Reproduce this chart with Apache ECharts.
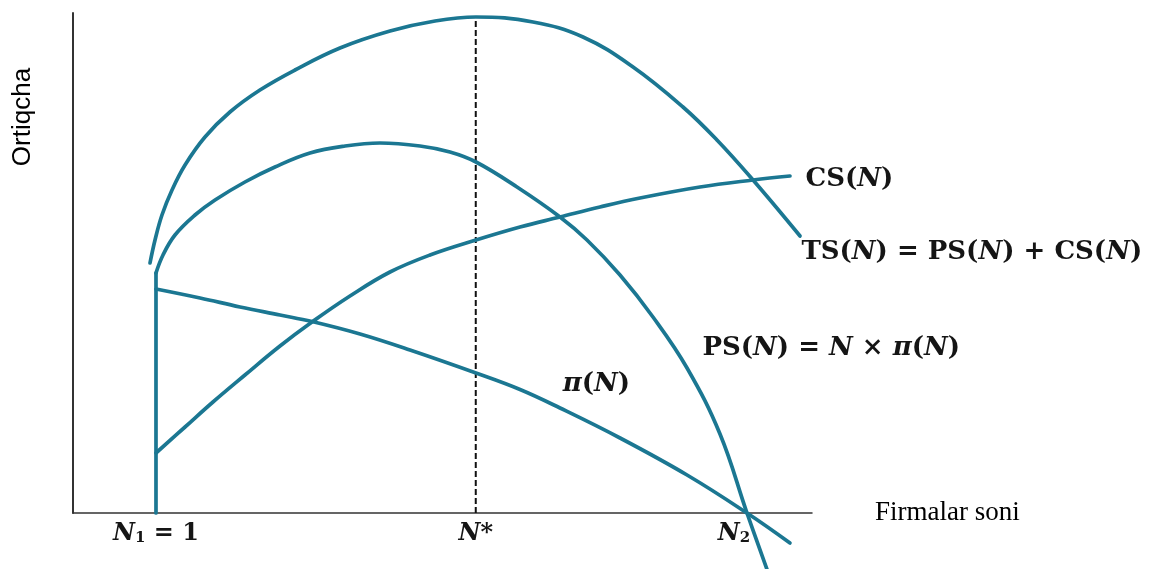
<!DOCTYPE html>
<html>
<head>
<meta charset="utf-8">
<script src="https://cdn.jsdelivr.net/npm/echarts@6/dist/echarts.min.js"></script>
<style>
  html, body { margin: 0; padding: 0; background: #fff; }
  #chart { width: 1151px; height: 569px; }
</style>
</head>
<body>
<div id="chart"></div>
<script>
// Number of firms (x) against surplus (y), both on a 0..100 schematic scale.
const tsCurve = [[10.42, 50.0], [11.10, 54.6], [12.04, 59.6], [13.40, 64.6], [15.16, 69.6], [17.86, 75.2],
  [21.24, 80.2], [25.30, 84.6], [30.04, 88.6], [36.13, 93.0], [42.90, 96.4], [48.99, 98.4],
  [54.53, 99.2], [62.25, 98.2], [69.01, 95.2], [75.78, 89.2], [82.54, 81.2], [87.14, 74.6],
  [92.02, 66.6], [98.38, 55.4]];
const psCurve = [[11.23, 48.0], [12.18, 51.6], [13.80, 55.6], [16.51, 59.6], [19.22, 62.6], [23.27, 66.2],
  [27.33, 69.2], [32.07, 72.0], [36.81, 73.4], [41.54, 74.0], [46.96, 73.4], [51.01, 72.2],
  [54.53, 70.2], [60.08, 65.2], [65.90, 59.2], [69.55, 54.6], [74.02, 47.6], [78.48, 39.2],
  [83.09, 29.0], [87.55, 15.8], [91.20, 0], [94.18, -12.4]];
const csCurve = [[11.23, 12.0], [15.16, 17.2], [18.94, 22.2], [23.27, 27.6], [28.01, 33.4], [32.34, 38.2],
  [37.48, 43.4], [42.90, 48.2], [48.31, 51.6], [54.53, 54.6], [60.49, 57.2], [65.90, 59.2],
  [71.31, 61.2], [76.73, 63.0], [84.84, 65.2], [92.02, 66.6], [97.02, 67.4]];
const piCurve = [[11.23, 44.8], [17.19, 43.0], [22.60, 41.2], [28.01, 39.6], [32.34, 38.3], [38.84, 35.8],
  [45.60, 32.6], [54.53, 28.0], [60.49, 24.7], [65.90, 21.0], [74.02, 15.0], [83.09, 7.6],
  [91.20, 0], [97.02, -6.0]];

// Key numbers of firms: N1 = 1, the optimum N*, and N2 where profit hits zero.
const n1 = 11.23;
const nStar = 54.5;
const n2 = 91.2;
const tsPeak = 99.2;
const n1Segment = [[n1, 0], [n1, 48.0]];
const nStarSegment = [[nStar, 0], [nStar, tsPeak]];

const tickValues = [n1, nStar, n2];
const tickLabels = ['{n|N}{s|1}{t| = 1}', '{n|N}{t|*}', '{n|N}{s|2}{gap|}'];

// Curve captions, anchored at their left edge.
const captionPositions = [[99.05, 66.8], [98.5, 52.2], [85.1, 33.0], [66.2, 25.8]];
const captionTexts = [
  '{t|CS(}{n|N}{t|)}',
  '{t|TS(}{n|N}{t|) = PS(}{n|N}{t|) + CS(}{n|N}{t|)}',
  '{t|PS(}{n|N}{t|) = }{n|N}{t| × }{n|π}{t|(}{n|N}{t|)}',
  '{n|π}{t|(}{n|N}{t|)}'
];

const xTitle = 'Firmalar soni';
const yTitle = 'Ortiqcha';

const curveColor = '#1b7792';
const mathFont = 'DejaVu Serif';
const textColor = '#151515';
const mathRich = {
  t: { fontFamily: mathFont, fontWeight: 'bold', fontSize: 26, color: textColor },
  n: { fontFamily: mathFont, fontWeight: 'bold', fontStyle: 'italic', fontSize: 26, color: textColor },
  s: { fontFamily: mathFont, fontWeight: 'bold', fontSize: 15, color: textColor, verticalAlign: 'bottom', lineHeight: 12 },
  gap: { width: 26 }
};
const tickRich = {
  t: Object.assign({}, mathRich.t, { fontSize: 24 }),
  n: Object.assign({}, mathRich.n, { fontSize: 24 }),
  s: mathRich.s,
  gap: mathRich.gap
};

function curve(name, data) {
  return {
    name: name, type: 'line', data: data, smooth: 0.4,
    showSymbol: false, clip: false, silent: true,
    lineStyle: { color: curveColor, width: 3.7, cap: 'round' }
  };
}

const chart = echarts.init(document.getElementById('chart'), null, { renderer: 'canvas' });
chart.setOption({
  animation: false,
  backgroundColor: '#ffffff',
  grid: { left: 73, top: 13, width: 739, height: 500 },
  xAxis: {
    type: 'value', min: 0, max: 100,
    name: xTitle, nameLocation: 'end', nameGap: 63,
    nameTextStyle: { fontFamily: 'Liberation Serif', fontSize: 27, color: '#000', align: 'left', verticalAlign: 'middle', padding: [58, 0, 0, 0] },
    axisLine: { show: true, lineStyle: { color: '#333', width: 1.5 } },
    axisTick: { show: false },
    splitLine: { show: false },
    axisLabel: {
      customValues: tickValues, margin: 9,
      formatter: function (v) { return tickLabels[tickValues.indexOf(v)] || ''; },
      rich: tickRich
    }
  },
  yAxis: {
    type: 'value', min: 0, max: 100,
    axisLine: { show: true, lineStyle: { color: '#333', width: 2 } },
    axisTick: { show: false },
    axisLabel: { show: false },
    splitLine: { show: false }
  },
  graphic: [{
    type: 'text', x: 23, y: 117, rotation: Math.PI / 2,
    style: { text: yTitle, font: '26px "Liberation Sans"', fill: '#000', align: 'center', verticalAlign: 'middle' }
  }],
  series: [
    curve('TS', tsCurve),
    curve('PS', psCurve),
    curve('CS', csCurve),
    curve('pi', piCurve),
    Object.assign(curve('N1', n1Segment), { smooth: false }),
    {
      name: 'Nstar', type: 'line', data: nStarSegment, showSymbol: false, silent: true,
      lineStyle: { color: '#111', width: 2, type: [6, 3] }, z: 1
    },
    {
      name: 'captions', type: 'scatter', silent: true, symbolSize: 1,
      itemStyle: { color: 'rgba(0,0,0,0)', opacity: 1 },
      data: captionPositions.map(function (p, i) {
        return { value: p, label: { formatter: captionTexts[i] } };
      }),
      label: { show: true, position: 'right', distance: 0, rich: mathRich, opacity: 1 }
    }
  ]
});
</script>
</body>
</html>
